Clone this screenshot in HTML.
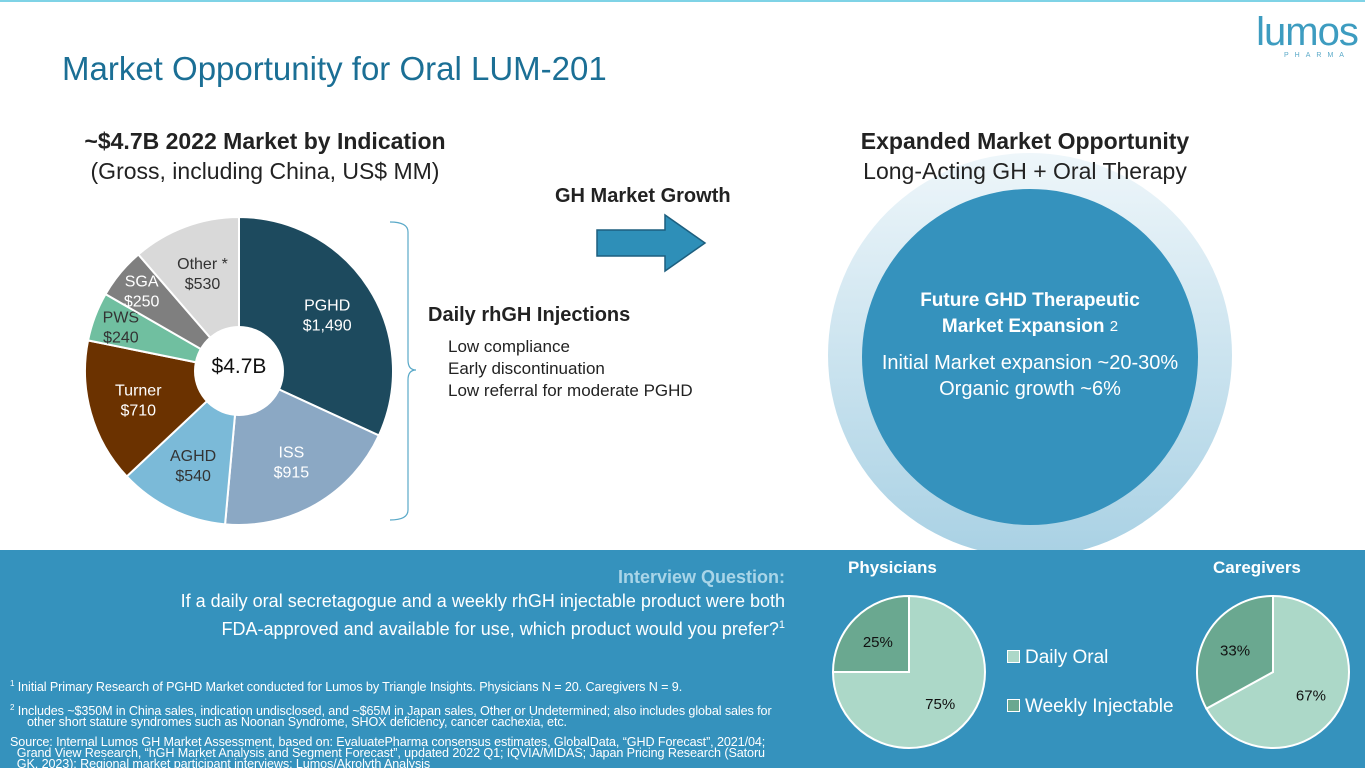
<!DOCTYPE html>
<html><head><meta charset="utf-8"><style>
body{margin:0;width:1365px;height:768px;overflow:hidden;background:#fff;font-family:"Liberation Sans",Arial,sans-serif;position:relative}
.a{position:absolute}
</style></head><body>
<div class="a" style="left:0;top:0;width:1365px;height:2px;background:#7fd3e6"></div>
<div class="a" style="left:62px;top:50px;font-size:33px;color:#1b6f95">Market Opportunity for Oral LUM-201</div>
<div class="a" style="left:1252px;top:12px;width:110px;text-align:center;color:#3d9cc0">
 <div style="font-size:40px;line-height:40px;letter-spacing:-1px">lumos</div>
 <div style="font-size:7px;letter-spacing:6px;color:#5aa9c8;margin-left:20px">PHARMA</div>
</div>
<div class="a" style="left:30px;top:126px;width:470px;text-align:center;font-size:23px;color:#222;line-height:30px"><b>~$4.7B 2022 Market by Indication</b><br>(Gross, including China, US$ MM)</div>
<div class="a" style="left:555px;top:185px;font-size:20px;font-weight:bold;color:#222">GH Market Growth</div>
<svg class="a" style="left:0;top:0" width="1365" height="768">
 <defs><linearGradient id="rg" x1="0" y1="0" x2="0" y2="1"><stop offset="0%" stop-color="#eef6fa"/><stop offset="100%" stop-color="#a9d1e4"/></linearGradient></defs>
 <polygon points="597,230 665,230 665,215 705,243 665,271 665,256 597,256" fill="#2e8fb8" stroke="#1d5f7f" stroke-width="1.5"/>
 <path d="M390,222 Q408,222 408,232 L408,360 Q408,370 416,370 Q408,370 408,380 L408,510 Q408,520 390,520" fill="none" stroke="#5aa9c8" stroke-width="1.2"/>
 <circle cx="1030" cy="355" r="202" fill="url(#rg)"/>
 <circle cx="1030" cy="357" r="168" fill="#3592bd"/>
 <g id="pie"></g>
</svg>
<div class="a" style="left:190px;top:355px;width:98px;text-align:center;font-size:21px;color:#111">$4.7B</div>
<div class="a" style="left:428px;top:304px;font-size:20px;font-weight:bold;color:#222">Daily rhGH Injections</div>
<div class="a" style="left:448px;top:336px;font-size:17px;color:#222;line-height:22px">Low compliance<br>Early discontinuation<br>Low referral for moderate PGHD</div>
<div class="a" style="left:820px;top:126px;width:410px;text-align:center;font-size:23px;color:#222;line-height:30px"><b>Expanded Market Opportunity</b><br>Long-Acting GH + Oral Therapy</div>
<div class="a" style="left:860px;top:288px;width:340px;text-align:center;color:#fff">
 <div style="font-size:19px;font-weight:bold;line-height:26px">Future GHD Therapeutic<br>Market Expansion <span style="font-weight:normal;font-size:15px;vertical-align:top">2</span></div>
 <div style="font-size:20px;line-height:26px;margin-top:10px">Initial Market expansion ~20-30%<br>Organic growth ~6%</div>
</div>
<div class="a" style="left:0;top:550px;width:1365px;height:218px;background:#3592bd"></div>
<div class="a" style="left:100px;top:565px;width:685px;text-align:right;color:#fff;font-size:18px;line-height:24px">
 <div style="color:#a9d5e8;font-weight:bold">Interview Question:</div>
 If a daily oral secretagogue and a weekly rhGH injectable product were both<br>FDA-approved and available for use, which product would you prefer?<sup style="font-size:11px">1</sup></div>
<div class="a" style="left:10px;top:678px;width:800px;color:#fff;font-size:12.6px;line-height:11px;letter-spacing:-0.1px">
 <div><sup style="font-size:8px">1</sup> Initial Primary Research of PGHD Market conducted for Lumos by Triangle Insights. Physicians N = 20. Caregivers N = 9.</div>
 <div style="margin-top:9px"><sup style="font-size:8px">2</sup> Includes ~$350M in China sales, indication undisclosed, and ~$65M in Japan sales, Other or Undetermined; also includes global sales for<br>&nbsp;&nbsp;&nbsp;&nbsp;&nbsp;other short stature syndromes such as Noonan Syndrome, SHOX deficiency, cancer cachexia, etc.</div>
 <div style="margin-top:9px">Source: Internal Lumos GH Market Assessment, based on: EvaluatePharma consensus estimates, GlobalData, “GHD Forecast”, 2021/04;<br>&nbsp;&nbsp;Grand View Research, “hGH Market Analysis and Segment Forecast”, updated 2022 Q1; IQVIA/MIDAS; Japan Pricing Research (Satoru<br>&nbsp;&nbsp;GK, 2023); Regional market participant interviews; Lumos/Akrolyth Analysis</div>
</div>
<div class="a" style="left:848px;top:558px;font-size:17px;font-weight:bold;color:#fff">Physicians</div>
<div class="a" style="left:1213px;top:558px;font-size:17px;font-weight:bold;color:#fff">Caregivers</div>
<div class="a" style="left:1007px;top:633px;color:#fff;font-size:19px;line-height:49px">
 <div><span style="display:inline-block;width:11px;height:11px;background:#acd8c8;border:1.5px solid #fff;margin-right:5px"></span>Daily Oral</div>
 <div><span style="display:inline-block;width:11px;height:11px;background:#6aa890;border:1.5px solid #fff;margin-right:5px"></span>Weekly Injectable</div>
</div>
<svg class="a" style="left:0;top:0" width="1365" height="768" id="small"></svg>
<script>
const categories=["PGHD","ISS","AGHD","Turner","PWS","SGA","Other *"];
const values=[1490,915,540,710,240,250,530];
const valueLabels=["$1,490","$915","$540","$710","$240","$250","$530"];
const colors=["#1d4a5e","#8ba8c4","#7bbad8","#6b3200","#70bfa0","#7f7f7f","#d9d9d9"];
const textColors=["#fff","#fff","#333","#fff","#333","#fff","#333"];
const prefGroups=["Physicians","Caregivers"];
const dailyOral=[75,67];
const weeklyInjectable=[25,33];
const NS="http://www.w3.org/2000/svg";
function pt(cx,cy,r,f){const a=f*2*Math.PI-Math.PI/2;return[cx+r*Math.cos(a),cy+r*Math.sin(a)];}
function arc(cx,cy,r,f0,f1){const p0=pt(cx,cy,r,f0),p1=pt(cx,cy,r,f1);return`M${cx},${cy}L${p0[0]},${p0[1]}A${r},${r} 0 ${f1-f0>0.5?1:0} 1 ${p1[0]},${p1[1]}Z`;}
const pie=document.getElementById('pie');
const total=values.reduce((a,b)=>a+b,0);
let acc=0;const cx=239,cy=371,R=154;
values.forEach((v,i)=>{const f0=acc/total,f1=(acc+v)/total;acc+=v;
 const p=document.createElementNS(NS,'path');p.setAttribute('d',arc(cx,cy,R,f0,f1));p.setAttribute('fill',colors[i]);p.setAttribute('stroke','#fff');p.setAttribute('stroke-width','2');
 
 
 pie.appendChild(p);
 const rr=(v/total<0.08)?R*0.82:R*0.68;const m=pt(cx,cy,rr,(f0+f1)/2);
 const t=document.createElementNS(NS,'text');t.setAttribute('x',m[0]);t.setAttribute('y',m[1]-4);t.setAttribute('text-anchor','middle');t.setAttribute('font-size','16');t.setAttribute('fill',textColors[i]);
 t.innerHTML=`<tspan x="${m[0]}">${categories[i]}</tspan><tspan x="${m[0]}" dy="20">${valueLabels[i]}</tspan>`;
 
 
 pie.appendChild(t);});
const hole=document.createElementNS(NS,'circle');hole.setAttribute('cx',cx);hole.setAttribute('cy',cy);hole.setAttribute('r',45);hole.setAttribute('fill','#fff');


pie.appendChild(hole);
const small=document.getElementById('small');const centers=[[909,672],[1273,672]];
prefGroups.forEach((g,i)=>{const [x,y]=centers[i],r=76;const tot=dailyOral[i]+weeklyInjectable[i];
 const fd=dailyOral[i]/tot;
 [[0,fd,'#acd8c8','daily-oral-slice',dailyOral[i]],[fd,1,'#6aa890','weekly-injectable-slice',weeklyInjectable[i]]].forEach(s=>{
  const p=document.createElementNS(NS,'path');p.setAttribute('d',arc(x,y,r,s[0],s[1]));p.setAttribute('fill',s[2]);p.setAttribute('stroke','#fff');p.setAttribute('stroke-width','2');
  
  
  small.appendChild(p);
  const m=pt(x,y,r*0.58,(s[0]+s[1])/2);const t=document.createElementNS(NS,'text');t.setAttribute('x',m[0]);t.setAttribute('y',m[1]+6);t.setAttribute('text-anchor','middle');t.setAttribute('font-size','15');t.setAttribute('fill','#111');t.textContent=s[4]+'%';
  
  
  small.appendChild(t);});});
</script>
</body></html>
